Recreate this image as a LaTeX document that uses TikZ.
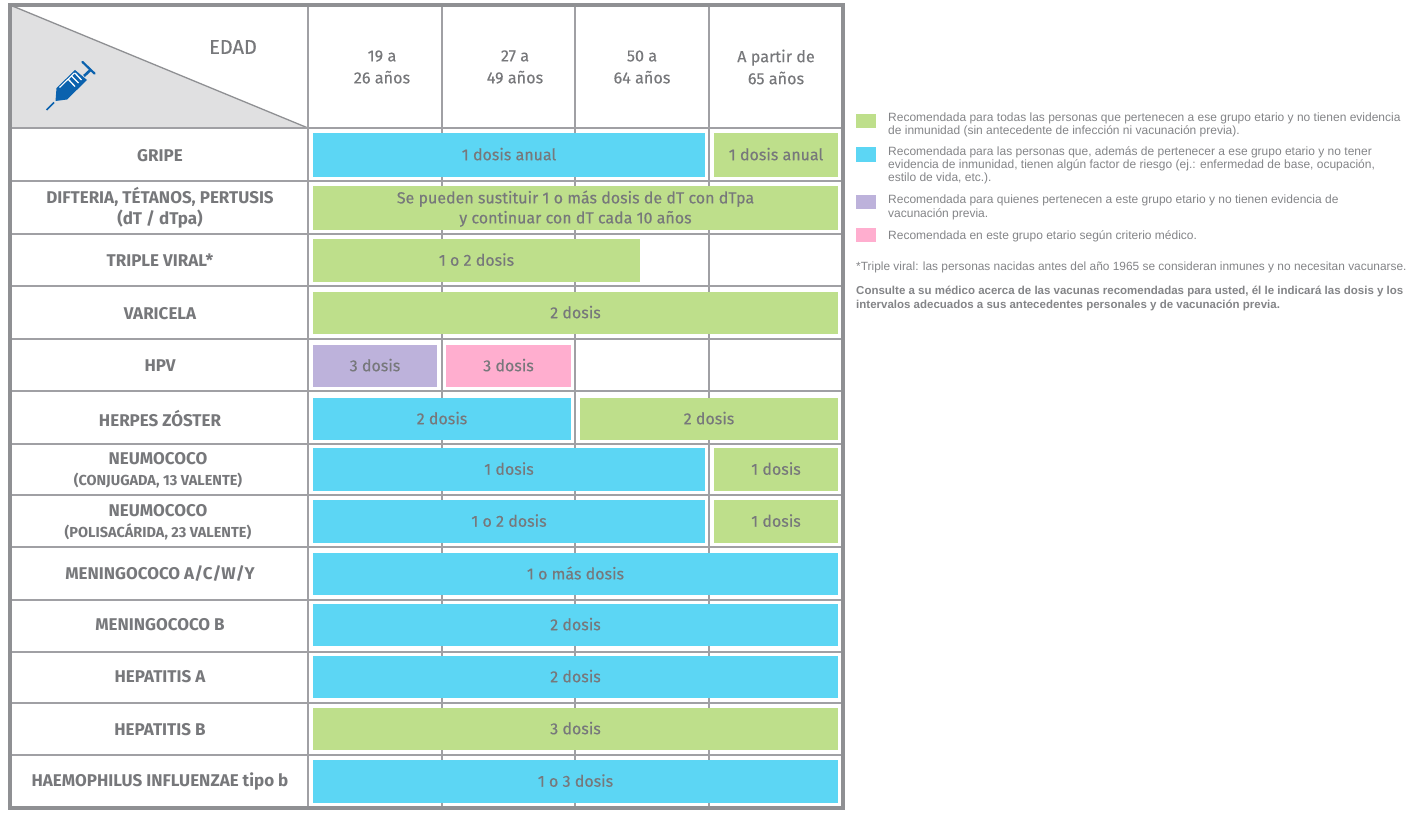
\documentclass[tikz,border=0pt]{standalone}
\usepackage{fontspec}
\setmainfont{Fira Sans}
\newfontfamily\medfont[RawFeature={embolden=0.35}]{Fira Sans}
\newfontfamily\legendfont{Liberation Sans}
\definecolor{txtgray}{HTML}{77787B}
\definecolor{legendgray}{HTML}{838487}
\definecolor{gridgray}{HTML}{A0A0A4}
\definecolor{framegray}{HTML}{8F9093}
\definecolor{wedgegray}{HTML}{E0E0E1}
\definecolor{barblue}{HTML}{5CD6F4}
\definecolor{bargreen}{HTML}{BEDF8B}
\definecolor{barpurple}{HTML}{BDB2DB}
\definecolor{barpink}{HTML}{FFAECF}
\definecolor{syringeblue}{HTML}{0B62AE}
\tikzset{
  bar/.style={inner sep=0pt,text=txtgray,align=center,text depth=2pt,font=\medfont\fontsize{16}{20}\selectfont},
  blue/.style={bar,fill=barblue},
  green/.style={bar,fill=bargreen},
  purple/.style={bar,fill=barpurple},
  pink/.style={bar,fill=barpink},
  vaccine/.style={inner sep=0pt,text=txtgray,align=center,font=\fontsize{17}{21}\selectfont\bfseries},
  age/.style={inner sep=0pt,text=txtgray,align=center,font=\medfont\fontsize{16.2}{22}\selectfont},
  swatch/.style={inner sep=0pt,minimum width=20pt,minimum height=14.5pt},
  legend/.style={inner sep=0pt,anchor=west,align=left,text=legendgray,font=\legendfont\fontsize{12}{13}\selectfont}
}
\begin{document}
\begin{tikzpicture}[x=1pt,y=-1pt]
\useasboundingbox (0,0) rectangle (1419,816);
% header
\fill[wedgegray] (10,5) -- (308,128) -- (10,128) -- cycle;
\draw[framegray,line width=1.3pt] (10,5) -- (308,128);
% syringe
\begin{scope}[syringeblue]
    \fill (55.5,101) -- (56.5,88) -- (75,70) -- (87,80) -- (67,99.5) -- cycle;
    \draw[line width=1.6pt] (46.5,110) -- (54,102.5);
    \draw[line width=2.6pt] (84,76) -- (91,69.5);
    \draw[line width=2.2pt,line cap=round] (82.5,62) -- (94.5,73.5);
    \draw[white,line width=1.1pt] (59.5,87.5) -- (74.5,73);
    \draw[white,line width=1.3pt] (68,79) -- (75,86.5) (71.5,76) -- (78.5,83) (75,73) -- (81.5,80);
\end{scope}
% grid
\begin{scope}[gridgray,line width=1.5pt]
    \draw (308,5) -- (308,808);
    \draw (442,5) -- (442,128) (575,5) -- (575,128) (709,5) -- (709,128);
    \draw (442,128) -- (442,808) (575,128) -- (575,808) (709,128) -- (709,808);
    \draw (10,128) -- (843,128);
    \draw (10,181) -- (843,181);
    \draw (10,234) -- (843,234);
    \draw (10,286) -- (843,286);
    \draw (10,339) -- (843,339);
    \draw (10,391) -- (843,391);
    \draw (10,444) -- (843,444);
    \draw (10,495) -- (843,495);
    \draw (10,547) -- (843,547);
    \draw (10,600) -- (843,600);
    \draw (10,652) -- (843,652);
    \draw (10,703) -- (843,703);
    \draw (10,755) -- (843,755);
\end{scope}
\draw[framegray,line width=3.2pt] (10,5) rectangle (843,808);
% ages
\begin{scope}[every node/.style={age}]
    \node[font=\medfont\fontsize{20}{22}\selectfont] (edad) at (233,47) {EDAD};
    \node (age1) at (382,67) {19 a\\26 años};
    \node (age2) at (515,67) {27 a\\49 años};
    \node (age3) at (642,67) {50 a\\64 años};
    \node (age4) at (776,67) {A partir de\\65 años};
\end{scope}
% vaccines
\begin{scope}[every node/.style={vaccine}]
    \node (gripe) at (160,156) {GRIPE};
    \node (dift) at (160,208) {DIFTERIA, TÉTANOS, PERTUSIS\\(dT / dTpa)};
    \node (triple) at (160,260.5) {TRIPLE VIRAL*};
    \node (vari) at (160,314) {VARICELA};
    \node (hpv) at (160,366) {HPV};
    \node (herpes) at (160,418.5) {HERPES ZÓSTER};
    \node (neumoA) at (158,470) {NEUMOCOCO\\{\fontsize{14.5}{15}\selectfont (CONJUGADA, 13 VALENTE)}};
    \node (neumoB) at (158,522) {NEUMOCOCO\\{\fontsize{14.5}{15}\selectfont (POLISACÁRIDA, 23 VALENTE)}};
    \node (menA) at (160,574) {MENINGOCOCO A/C/W/Y};
    \node (menB) at (160,625) {MENINGOCOCO B};
    \node (hepA) at (160,677) {HEPATITIS A};
    \node (hepB) at (160,730) {HEPATITIS B};
    \node (haem) at (160,781.5) {HAEMOPHILUS INFLUENZAE tipo b};
\end{scope}
% bars
\node[blue,minimum width=392pt,minimum height=44pt] (b1a) at (509,155) {1 dosis anual};
\node[green,minimum width=124pt,minimum height=44pt] (b1b) at (776,155) {1 dosis anual};
\node[green,minimum width=525pt,minimum height=44pt] (b2) at (575.5,208) {Se pueden sustituir 1 o más dosis de dT con dTpa\\y continuar con dT cada 10 años};
\node[green,minimum width=327pt,minimum height=43pt] (b3) at (476.5,260.5) {1 o 2 dosis};
\node[green,minimum width=525pt,minimum height=42pt] (b4) at (575.5,313) {2 dosis};
\node[purple,minimum width=124pt,minimum height=42pt] (b5a) at (375,366) {3 dosis};
\node[pink,minimum width=125pt,minimum height=42pt] (b5b) at (508.5,366) {3 dosis};
\node[blue,minimum width=258pt,minimum height=42pt] (b6a) at (442,419) {2 dosis};
\node[green,minimum width=258pt,minimum height=42pt] (b6b) at (709,419) {2 dosis};
\node[blue,minimum width=392pt,minimum height=43pt] (b7a) at (509,469.5) {1 dosis};
\node[green,minimum width=124pt,minimum height=43pt] (b7b) at (776,469.5) {1 dosis};
\node[blue,minimum width=392pt,minimum height=43pt] (b8a) at (509,521.5) {1 o 2 dosis};
\node[green,minimum width=124pt,minimum height=43pt] (b8b) at (776,521.5) {1 dosis};
\node[blue,minimum width=525pt,minimum height=42pt] (b9) at (575.5,574) {1 o más dosis};
\node[blue,minimum width=525pt,minimum height=42pt] (b10) at (575.5,625) {2 dosis};
\node[blue,minimum width=525pt,minimum height=42pt] (b11) at (575.5,677) {2 dosis};
\node[green,minimum width=525pt,minimum height=42pt] (b12) at (575.5,729) {3 dosis};
\node[blue,minimum width=525pt,minimum height=43pt] (b13) at (575.5,781.5) {1 o 3 dosis};
% legend
\node[swatch,fill=bargreen] (s1) at (866,121) {};
\node[swatch,fill=barblue] (s2) at (866,154.5) {};
\node[swatch,fill=barpurple] (s3) at (866,202) {};
\node[swatch,fill=barpink] (s4) at (866,235) {};
\begin{scope}[every node/.style={legend}]
    \node (t1) at (888,125) {Recomendada para todas las personas que pertenecen a ese grupo etario y no tienen evidencia\\de inmunidad (sin antecedente de infección ni vacunación previa).};
    \node (t2) at (888,165.5) {Recomendada para las personas que, además de pertenecer a ese grupo etario y no tener\\evidencia de inmunidad, tienen algún factor de riesgo (ej.: enfermedad de base, ocupación,\\estilo de vida, etc.).};
    \node[font=\legendfont\fontsize{12}{14}\selectfont] (t3) at (888,207) {Recomendada para quienes pertenecen a este grupo etario y no tienen evidencia de\\vacunación previa.};
    \node (t4) at (888,236) {Recomendada en este grupo etario según criterio médico.};
    \node[font=\legendfont\fontsize{11.9}{13}\selectfont] (t5) at (856,267.5) {*Triple viral: las personas nacidas antes del año 1965 se consideran inmunes y no necesitan vacunarse.};
    \node[font=\legendfont\fontsize{11.5}{14}\selectfont\bfseries] (t6) at (856,298) {Consulte a su médico acerca de las vacunas recomendadas para usted, él le indicará las dosis y los\\intervalos adecuados a sus antecedentes personales y de vacunación previa.};
\end{scope}
\end{tikzpicture}
\end{document}
